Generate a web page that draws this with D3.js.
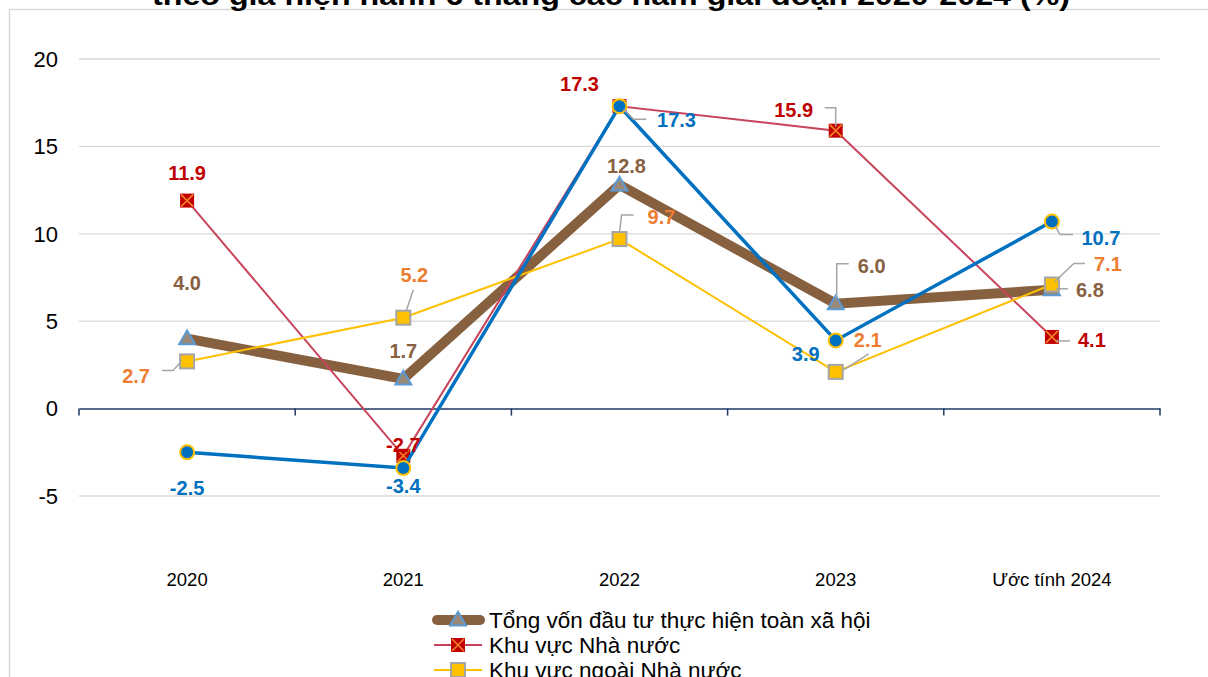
<!DOCTYPE html>
<html>
<head>
<meta charset="utf-8">
<script src="https://cdn.jsdelivr.net/npm/d3@7"></script>
<style>
  body { margin: 0; background: #fff; }
  svg { font-family: "Liberation Sans", Arial, sans-serif; }
</style>
</head>
<body>
<svg id="chart" width="1208" height="677"></svg>
<script>
// data
var categories = ["2020", "2021", "2022", "2023", "Ước tính 2024"];
var yTicks = [-5, 0, 5, 10, 15, 20];

var tongVon   = [4.0, 1.7, 12.8, 6.0, 6.8];
var nhaNuoc   = [11.9, -2.7, 17.3, 15.9, 4.1];
var ngoaiNN   = [2.7, 5.2, 9.7, 2.1, 7.1];
var fdi       = [-2.5, -3.4, 17.3, 3.9, 10.7];

var seriesNames = [
  "Tổng vốn đầu tư thực hiện toàn xã hội",
  "Khu vực Nhà nước",
  "Khu vực ngoài Nhà nước"
];

// label offsets (dx, dy from point) and optional leader lines
var offTong = [[0,-56,null],[0,-28,null],[7,-19,null],[36,-38,[[1,-6],[1,-40],[13,-40]]],[38,0,[[4,-1],[16,-1]]]];
var offNN   = [[0,-28,null],[0,-11,null],[-40,-22,null],[-42,-21,[[0,-4],[0,-23],[-11,-23]]],[40,3,[[4,4],[18,4]]]];
var offNgoai= [[-51,15,[[-6,0],[-14,9],[-25,9]]],[11,-43,[[3,-7],[10,-28]]],[42,-22,[[0,-6],[2,-24],[14,-24]]],[32,-32,[[8,-2],[33,-18]]],[56,-20,[[3,-3],[22,-21],[33,-21]]]];
var offFdi  = [[0,36,null],[0,18,null],[57,14,[[4,3],[14,13],[27,13]]],[-30,14,null],[49,16,[[4,5],[8,13],[21,13]]]];

var svg = d3.select("#chart");

// frame + cut-off title
svg.append("path")
  .attr("d", "M9.5,677 V9.5 H1208")
  .attr("fill", "none").attr("stroke", "#d9d9d9").attr("stroke-width", 1.5);

svg.append("text")
  .attr("x", 152).attr("y", 5)
  .attr("textLength", 918)
  .attr("lengthAdjust", "spacingAndGlyphs")
  .style("font-weight", "bold").style("font-size", "28px")
  .text("theo giá hiện hành 6 tháng các năm giai đoạn 2020-2024 (%)");

var x = d3.scaleBand().domain(categories).range([79, 1160]);
var y = d3.scaleLinear().domain([-5, 20]).range([496, 59]);
var cx = d => x(d) + x.bandwidth() / 2;

// gridlines
svg.append("g").selectAll("line")
  .data(yTicks.filter(t => t !== 0))
  .enter().append("line")
  .attr("x1", 79).attr("x2", 1160)
  .attr("y1", d => y(d)).attr("y2", d => y(d))
  .attr("stroke", "#d9d9d9").attr("stroke-width", 1.3);

// y tick labels
svg.append("g").selectAll("text")
  .data(yTicks)
  .enter().append("text")
  .attr("x", 58).attr("y", d => y(d))
  .attr("dy", "0.35em")
  .attr("text-anchor", "end")
  .style("font-size", "22px").attr("fill", "#000")
  .text(d => d);

// zero axis with ticks
var axis = svg.append("g").attr("transform", `translate(0,${y(0)})`)
  .call(d3.axisBottom(x).tickSize(0).tickFormat(""));
axis.select(".domain").attr("stroke", "#1f3864").attr("stroke-width", 1.5);
axis.selectAll(".b").data(categories.concat(["end"])).enter().append("line")
  .attr("x1", (d, i) => i < categories.length ? x(d) : x.range()[1])
  .attr("x2", (d, i) => i < categories.length ? x(d) : x.range()[1])
  .attr("y1", 0).attr("y2", 7)
  .attr("stroke", "#1f3864").attr("stroke-width", 1.5);

// category labels
svg.append("g").selectAll("text")
  .data(categories)
  .enter().append("text")
  .attr("x", d => cx(d)).attr("y", 580)
  .attr("dy", "0.35em")
  .attr("text-anchor", "middle")
  .style("font-size", "18.5px")
  .text(d => d);

var line = d3.line().x((d, i) => cx(categories[i])).y(d => y(d));

var series = [
  {vals: tongVon, color: "#87603f", width: 10, marker: "tri", labelColor: "#87603f", off: offTong},
  {vals: nhaNuoc, color: "#c8445c", width: 2, marker: "x", labelColor: "#c00000", off: offNN},
  {vals: ngoaiNN, color: "#ffc000", width: 2, marker: "sq", labelColor: "#ed7d31", off: offNgoai},
  {vals: fdi,     color: "#0070c0", width: 3.5, marker: "circ", labelColor: "#0070c0", off: offFdi}
];

function drawMarker(g, type, px, py) {
  if (type === "tri") {
    g.append("path")
      .attr("d", d3.symbol(d3.symbolTriangle, 110)())
      .attr("transform", `translate(${px},${py + 1})`)
      .attr("fill", "#9a8878").attr("stroke", "#5b9bd5").attr("stroke-width", 2);
  } else if (type === "x") {
    g.append("rect").attr("x", px - 7).attr("y", py - 7).attr("width", 14).attr("height", 14)
      .attr("fill", "#c00000");
    g.append("path").attr("d", `M${px-6},${py-6}L${px+6},${py+6}M${px+6},${py-6}L${px-6},${py+6}`)
      .attr("stroke", "#f4802a").attr("stroke-width", 1.6);
  } else if (type === "sq") {
    g.append("rect").attr("x", px - 7).attr("y", py - 7).attr("width", 14).attr("height", 14)
      .attr("fill", "#ffc000").attr("stroke", "#a5a5a5").attr("stroke-width", 2);
  } else {
    g.append("circle").attr("cx", px).attr("cy", py).attr("r", 7)
      .attr("fill", "#0070c0").attr("stroke", "#ffc000").attr("stroke-width", 2);
  }
}

series.forEach(function(s) {
  var g = svg.append("g");
  g.append("path").datum(s.vals)
    .attr("d", line)
    .attr("fill", "none")
    .attr("stroke", s.color)
    .attr("stroke-width", s.width)
    .attr("stroke-linejoin", "miter");
  s.vals.forEach(function(v, i) {
    drawMarker(g, s.marker, cx(categories[i]), y(v));
  });
});

// data labels drawn on top
series.forEach(function(s) {
  var g = svg.append("g");
  s.vals.forEach(function(v, i) {
    var px = cx(categories[i]), py = y(v), o = s.off[i];
    if (o[2]) {
      g.append("polyline")
        .attr("points", o[2].map(p => (px + p[0]) + "," + (py + p[1])).join(" "))
        .attr("fill", "none").attr("stroke", "#a5a5a5").attr("stroke-width", 1.5);
    }
    g.append("text")
      .attr("x", px + o[0]).attr("y", py + o[1])
      .attr("dy", "0.35em")
      .attr("text-anchor", "middle")
      .style("font-size", "20px").style("font-weight", "bold")
      .attr("fill", s.labelColor)
      .text(v.toFixed(1));
  });
});

// legend
var legend = svg.selectAll(".legend")
  .data(series.slice(0, 3))
  .enter().append("g")
  .attr("class", "legend")
  .attr("transform", (d, i) => `translate(0,${620 + i * 25})`);

legend.append("line")
  .attr("x1", d => d.marker === "tri" ? 437 : 434)
  .attr("x2", d => d.marker === "tri" ? 480 : 482)
  .attr("stroke", d => d.color)
  .attr("stroke-width", d => d.width)
  .attr("stroke-linecap", d => d.marker === "tri" ? "round" : "butt");

legend.each(function(d) { drawMarker(d3.select(this), d.marker, 458, 0); });

legend.append("text")
  .attr("x", 489).attr("dy", "0.35em")
  .style("font-size", "22.5px")
  .text((d, i) => seriesNames[i]);
</script>
</body>
</html>
